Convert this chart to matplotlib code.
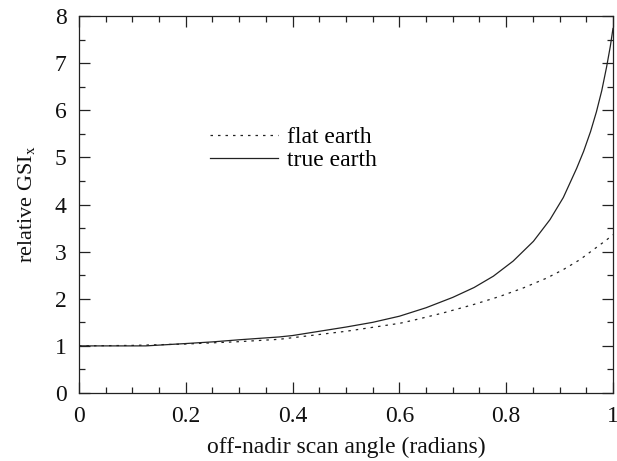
import numpy as np
import matplotlib
matplotlib.use("Agg")
import matplotlib.pyplot as plt
from matplotlib.ticker import MultipleLocator

# values
x_true = [0.0, 0.05, 0.10, 0.125, 0.2, 0.25, 0.3, 0.375, 0.4, 0.5, 0.55, 0.6,
          0.65, 0.7, 0.74, 0.776, 0.813, 0.851, 0.882, 0.907, 0.932, 0.945,
          0.958, 0.969, 0.979, 0.988, 0.995, 1.0]
y_true = [1.0, 1.0, 1.0, 1.0, 1.05, 1.085, 1.13, 1.19, 1.22, 1.4, 1.5, 1.63,
          1.81, 2.03, 2.24, 2.48, 2.80, 3.22, 3.68, 4.15, 4.77, 5.13,
          5.55, 5.97, 6.42, 6.92, 7.36, 7.74]

x_flat = [0.0, 0.1, 0.2, 0.3, 0.375, 0.5, 0.601, 0.632, 0.682, 0.738, 0.788,
          0.832, 0.876, 0.907, 0.938, 0.988, 1.0]
y_flat = [1.0, 1.01, 1.04, 1.09, 1.14, 1.31, 1.48, 1.56, 1.70, 1.875, 2.05,
          2.23, 2.44, 2.62, 2.83, 3.25, 3.36]

labels = ["flat earth", "true earth"]

plt.rcParams["font.family"] = ["Liberation Serif", "DejaVu Serif"]
plt.rcParams["mathtext.fontset"] = "stix"

fig = plt.figure(figsize=(6.17, 4.61), dpi=100)
ax = fig.add_axes([0.128, 0.1475, 0.8655, 0.8175])

ink = "#222222"
ax.plot(x_flat, y_flat, color=ink, lw=0.9, linestyle=(0, (2, 4)), label=labels[0])
ax.plot(x_true, y_true, color=ink, lw=0.9, label=labels[1])

ax.set_xlim(0, 1)
ax.set_ylim(0, 8)
ax.xaxis.set_major_locator(MultipleLocator(0.2))
ax.xaxis.set_minor_locator(MultipleLocator(0.05))
ax.yaxis.set_major_locator(MultipleLocator(1))
ax.yaxis.set_minor_locator(MultipleLocator(0.5))
ax.xaxis.set_major_formatter(plt.FuncFormatter(lambda v, p: f"{v:g}"))

ax.tick_params(which="both", direction="in", top=True, right=True,
               color=ink, width=0.9, labelsize=17, labelcolor="#111111")
ax.tick_params(which="major", length=8)
ax.tick_params(axis="x", which="major", pad=9.5)
ax.tick_params(axis="y", which="major", pad=9)
ax.tick_params(which="minor", length=4.5)
for sp in ax.spines.values():
    sp.set_color(ink)
    sp.set_linewidth(0.9)

ax.set_xlabel("off-nadir scan angle (radians)", fontsize=17, color="#111111", labelpad=7)
ax.set_ylabel(r"relative GSI$_{\mathrm{x}}$", fontsize=16, color="#111111", labelpad=13)

leg = ax.legend(loc="upper left", bbox_to_anchor=(0.245, 0.706), frameon=False,
                fontsize=17, handlelength=2.9, handletextpad=0.35,
                labelspacing=0.05, borderpad=0, borderaxespad=0)

fig.savefig("out.png", dpi=100)
